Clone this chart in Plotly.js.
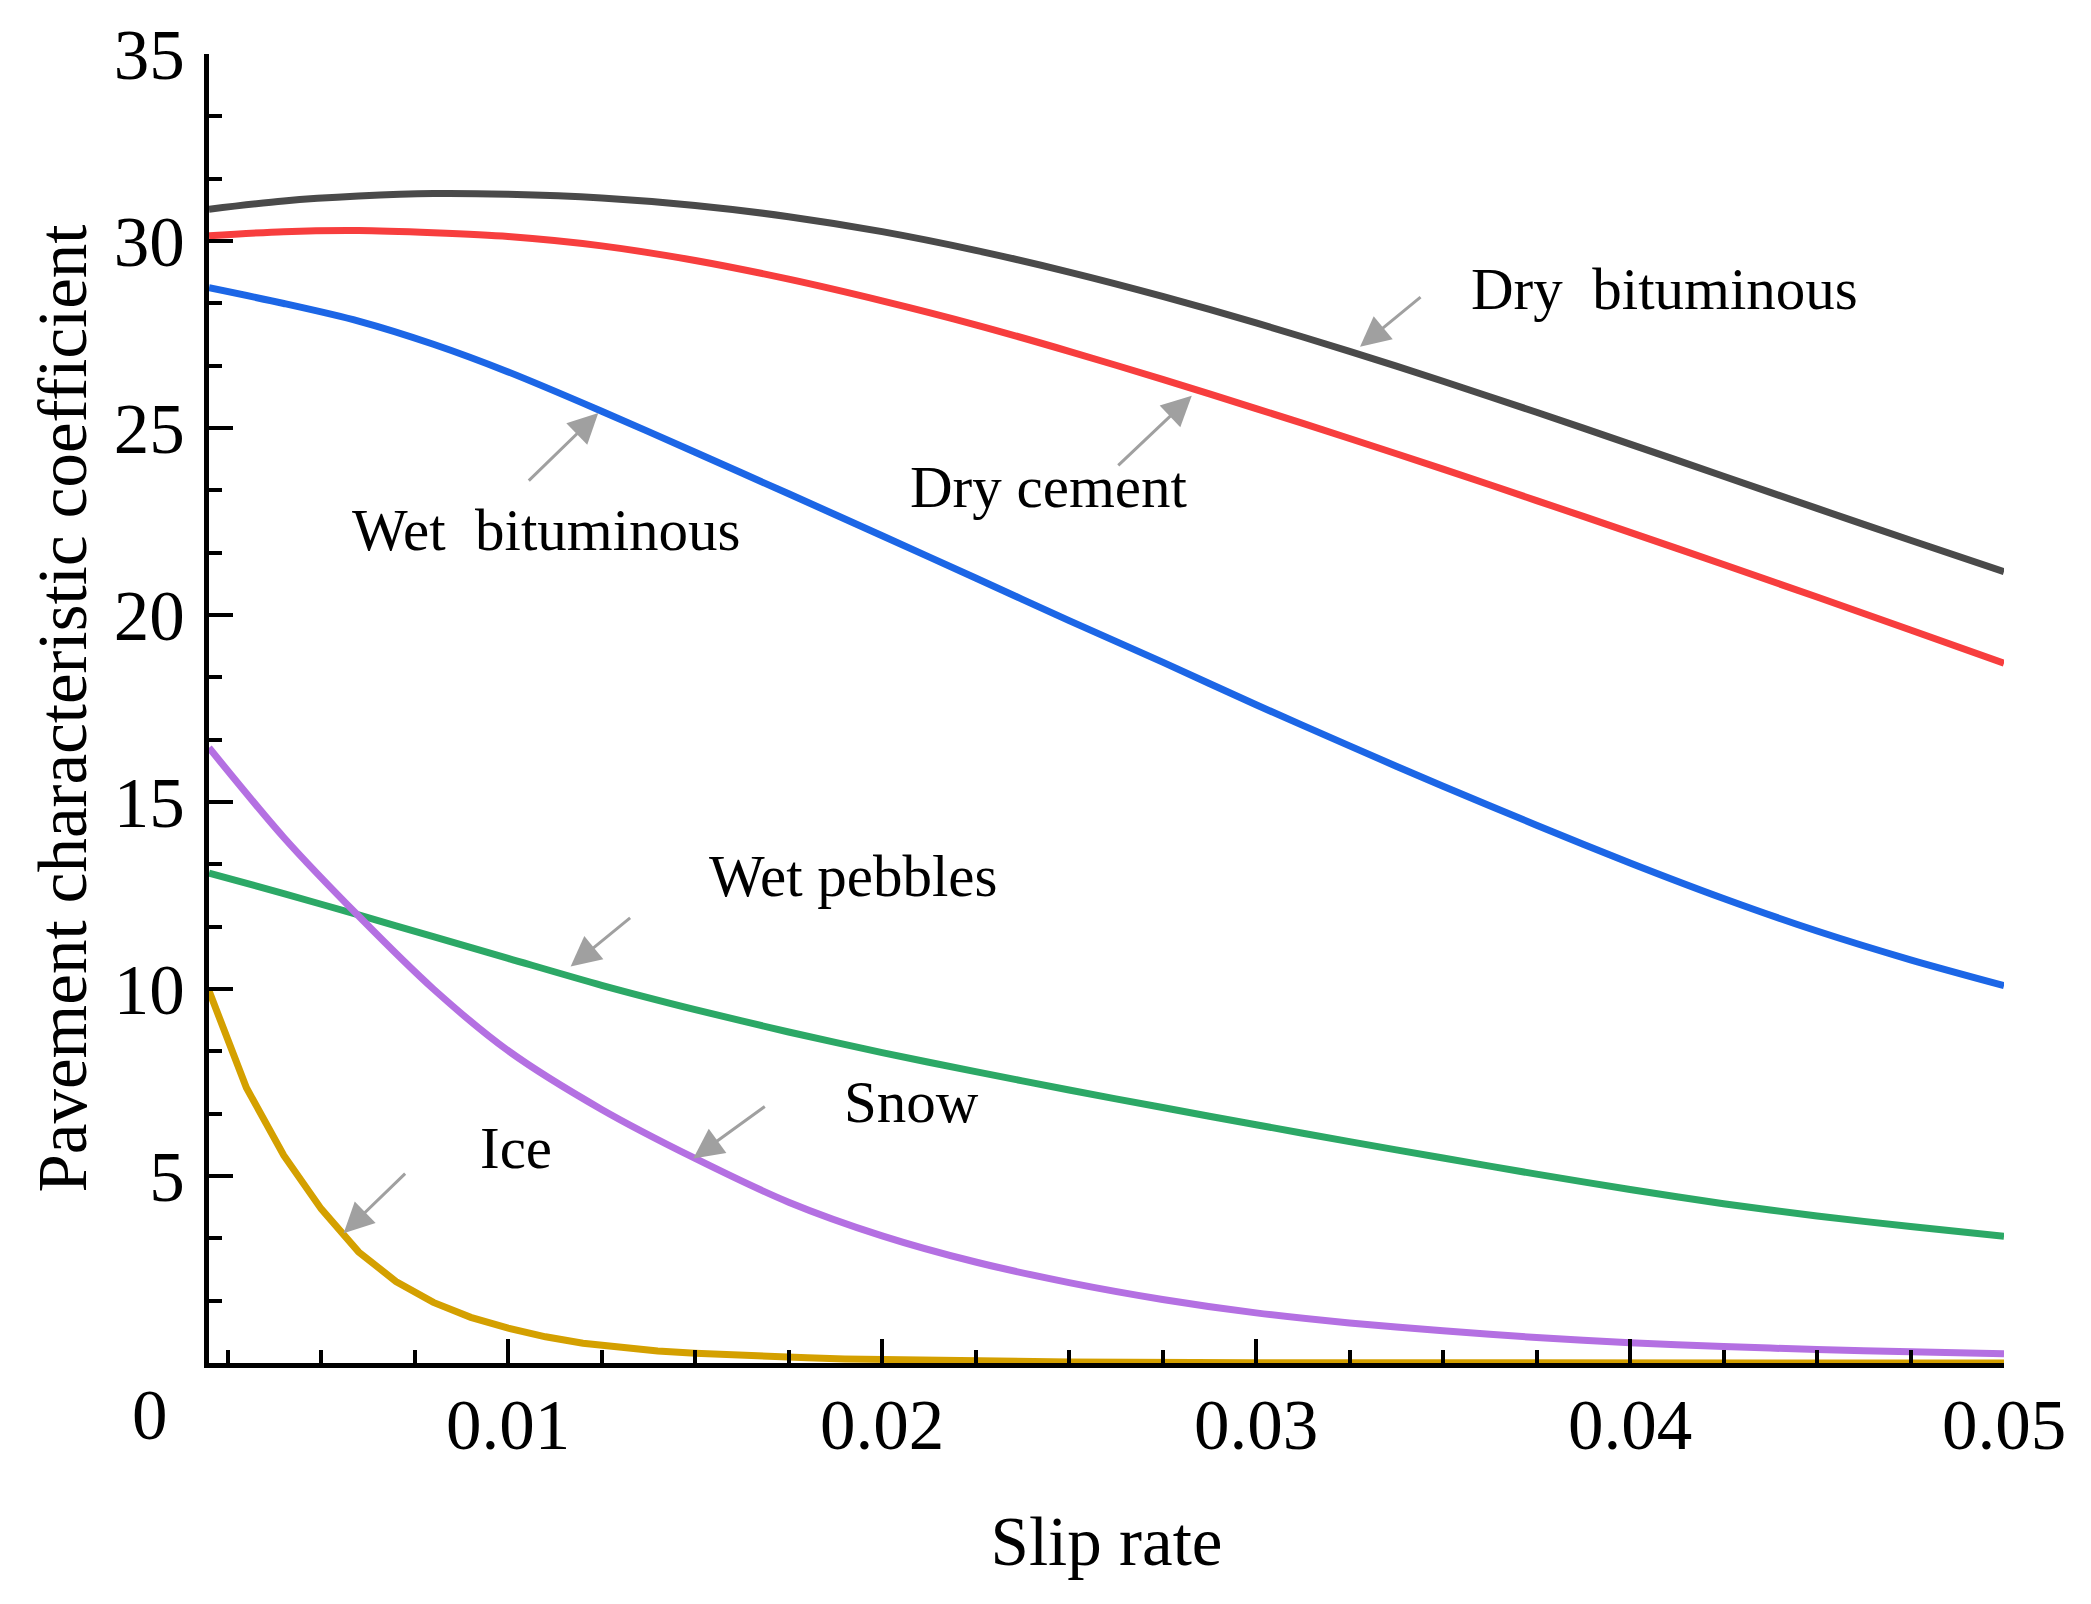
<!DOCTYPE html>
<html>
<head>
<meta charset="utf-8">
<script src="https://cdn.plot.ly/plotly-3.0.1.min.js"></script>
<style>
  html, body { margin: 0; padding: 0; background: #ffffff; }
  #chart { width: 2091px; height: 1604px; }
</style>
</head>
<body>
<div id="chart"></div>
<script>
// ---- data ----
var slipRate = [0.002, 0.004, 0.006, 0.008, 0.010, 0.0125, 0.015, 0.0175, 0.020, 0.0225,
                0.025, 0.0275, 0.030, 0.0325, 0.035, 0.0375, 0.040, 0.0425, 0.045, 0.0475, 0.050];

var dryBituminous = [30.85, 31.07, 31.20, 31.27, 31.25, 31.15, 30.95, 30.65, 30.25, 29.75,
                     29.17, 28.52, 27.81, 27.05, 26.25, 25.42, 24.57, 23.71, 22.85, 22.00, 21.16];
var dryCement     = [30.14, 30.25, 30.28, 30.22, 30.12, 29.87, 29.48, 28.98, 28.40, 27.76,
                     27.05, 26.30, 25.52, 24.72, 23.90, 23.06, 22.21, 21.35, 20.48, 19.60, 18.71];
var wetBituminous = [28.75, 28.33, 27.86, 27.24, 26.50, 25.45, 24.35, 23.24, 22.12, 20.99,
                     19.85, 18.74, 17.60, 16.50, 15.42, 14.38, 13.37, 12.42, 11.55, 10.78, 10.09];
var wetPebbles    = [13.10, 12.55, 11.98, 11.40, 10.82, 10.10, 9.45, 8.85, 8.30, 7.79,
                     7.30, 6.83, 6.37, 5.92, 5.48, 5.05, 4.64, 4.26, 3.93, 3.65, 3.39];
var snow          = [16.45, 14.05, 11.95, 10.00, 8.35, 6.78, 5.47, 4.30, 3.40, 2.70,
                     2.15, 1.70, 1.34, 1.07, 0.86, 0.68, 0.54, 0.44, 0.36, 0.30, 0.25];

var iceSlip = [0.002, 0.003, 0.004, 0.005, 0.006, 0.007, 0.008, 0.009, 0.010, 0.011,
               0.012, 0.013, 0.014, 0.015, 0.016, 0.017, 0.018, 0.019, 0.020,
               0.025, 0.030, 0.035, 0.040, 0.045, 0.050];
var ice     = [9.95, 7.36, 5.55, 4.12, 2.97, 2.18, 1.62, 1.22, 0.93, 0.70,
               0.53, 0.41, 0.32, 0.26, 0.21, 0.17, 0.14, 0.11, 0.09,
               0.03, 0.01, 0.00, 0.00, 0.00, 0.00];

var xTickVals = [0.01, 0.02, 0.03, 0.04, 0.05];
var xTickText = ['0.01', '0.02', '0.03', '0.04', '0.05'];
var yTickVals = [5, 10, 15, 20, 25, 30, 35];
var yTickText = ['5', '10', '15', '20', '25', '30', '35'];

// label name, text anchor (x, y), arrow tip (x, y), arrow tail offset (px)
var labelNames = ['Dry\u00a0\u00a0bituminous', 'Dry cement', 'Wet\u00a0\u00a0bituminous', 'Wet pebbles', 'Snow', 'Ice'];
var labelX     = [0.03569, 0.02068, 0.00577, 0.01531, 0.01894, 0.00918];
var labelY     = [28.73, 23.42, 22.26, 13.02, 6.99, 5.76];
var arrowX     = [0.03278, 0.02828, 0.01241, 0.01167, 0.01495, 0.00560];
var arrowY     = [27.17, 25.86, 25.40, 10.60, 5.47, 3.47];
var arrowAX    = [62, -75, -71, 61, 73, 63];
var arrowAY    = [-51, 71, 69, -50, -53, -61];

// ---- styling ----
var FONT = '"Liberation Serif", "Times New Roman", Times, serif';
var lw = 7;

function curve(x, y, color, shape) {
  return {
    type: 'scatter', mode: 'lines', x: x, y: y,
    line: { color: color, width: lw, shape: shape, smoothing: 0.8 },
    hoverinfo: 'skip', showlegend: false
  };
}

var traces = [
  curve(slipRate, dryBituminous, '#4a4a4a', 'spline'),
  curve(slipRate, dryCement, '#f73e3e', 'spline'),
  curve(slipRate, wetBituminous, '#1c66e6', 'spline'),
  curve(slipRate, wetPebbles, '#2ca866', 'spline'),
  curve(iceSlip, ice, '#d4a000', 'linear'),
  curve(slipRate, snow, '#b470e2', 'spline')
];

var annotations = [];
for (var i = 0; i < labelNames.length; i++) {
  annotations.push({
    xref: 'x', yref: 'y', x: labelX[i], y: labelY[i],
    text: labelNames[i], showarrow: false,
    xanchor: 'left', yanchor: 'middle',
    font: { family: FONT, size: 59, color: '#000000' }
  });
  annotations.push({
    xref: 'x', yref: 'y', x: arrowX[i], y: arrowY[i],
    ax: arrowAX[i], ay: arrowAY[i],
    text: '', showarrow: true,
    arrowhead: 2, arrowsize: 2, arrowwidth: 3, arrowcolor: '#a0a0a0',
    standoff: 0, startstandoff: 0
  });
}
// shared origin label
annotations.push({
  xref: 'paper', yref: 'paper', x: -0.033, y: -0.040,
  text: '0', showarrow: false, xanchor: 'center', yanchor: 'middle',
  font: { family: FONT, size: 71, color: '#000000' }
});

var axisCommon = {
  showline: true, linecolor: '#000000', linewidth: 5,
  showgrid: false, zeroline: false,
  ticks: 'inside', ticklen: 24, tickwidth: 4, tickcolor: '#000000',
  tickfont: { family: FONT, size: 71, color: '#000000' },
  tickmode: 'array'
};

var layout = {
  width: 2091, height: 1604,
  margin: { l: 209, r: 87, t: 54, b: 241 },
  paper_bgcolor: '#ffffff', plot_bgcolor: '#ffffff',
  showlegend: false,
  xaxis: Object.assign({}, axisCommon, {
    range: [0.002, 0.05],
    tickvals: xTickVals, ticktext: xTickText,
    ticklabelstandoff: -4,
    minor: { dtick: 0.0025, tick0: 0, ticks: 'inside', ticklen: 13, tickwidth: 4, tickcolor: '#000000', showgrid: false },
    title: { text: 'Slip rate', font: { family: FONT, size: 69, color: '#000000' }, standoff: 55 }
  }),
  yaxis: Object.assign({}, axisCommon, {
    range: [0, 35],
    tickvals: yTickVals, ticktext: yTickText,
    ticklabelstandoff: 5,
    minor: { dtick: 5 / 3, tick0: 0, ticks: 'inside', ticklen: 13, tickwidth: 4, tickcolor: '#000000', showgrid: false },
    title: { text: 'Pavement characteristic coefficient', font: { family: FONT, size: 69, color: '#000000' }, standoff: 6 }
  }),
  annotations: annotations
};

Plotly.newPlot('chart', traces, layout, { displayModeBar: false, staticPlot: true });
</script>
</body>
</html>
